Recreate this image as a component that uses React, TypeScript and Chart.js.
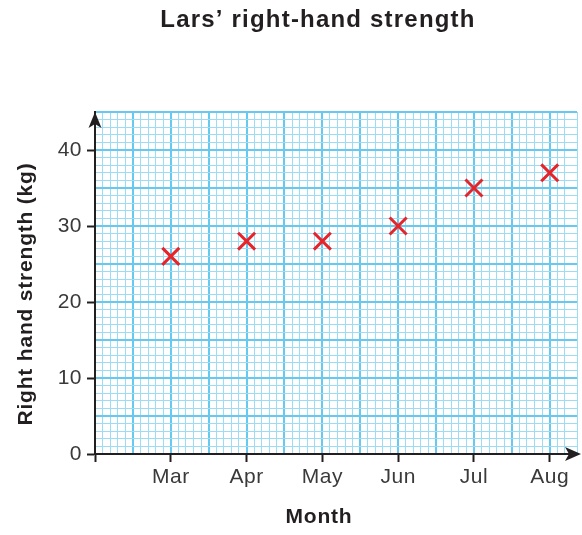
import React, { useEffect, useRef } from "react";
import { Chart, registerables } from "chart.js";

Chart.register(...registerables);

const TITLE = "Lars’ right-hand strength";
const X_TITLE = "Month";
const Y_TITLE = "Right hand strength (kg)";
const months = ["Mar", "Apr", "May", "Jun", "Jul", "Aug"];
const strength = [26, 28, 28, 30, 35, 37];
const yLabelStep = 10;

const X_MAX = 6.36;
const Y_MAX = 45;

const INK = "#231f20";
const TICK_TEXT = "#3a3a3a";
const GRID_MINOR = "#9cdcf5";
const GRID_MAJOR = "#66c9ef";
const MARK = "#e6242a";
const FONT = "'Liberation Sans', Arial, Helvetica, sans-serif";

const decorPlugin = {
  id: "decor",
  beforeDraw(chart: any) {
    (chart.ctx as any).letterSpacing = "0.5px";
  },
  afterDraw(chart: any) {
    const ctx = chart.ctx as CanvasRenderingContext2D;
    const { left, right, top, bottom } = chart.chartArea;
    ctx.save();
    // arrow heads
    ctx.fillStyle = INK;
    ctx.beginPath();
    ctx.moveTo(left, top);
    ctx.lineTo(left - 6.5, top + 16);
    ctx.lineTo(left, top + 12);
    ctx.lineTo(left + 6.5, top + 16);
    ctx.closePath();
    ctx.fill();
    const tipX = right + 4;
    ctx.beginPath();
    ctx.moveTo(tipX, bottom);
    ctx.lineTo(tipX - 16, bottom - 7);
    ctx.lineTo(tipX - 12, bottom);
    ctx.lineTo(tipX - 16, bottom + 7);
    ctx.closePath();
    ctx.fill();

    // texts
    (ctx as any).letterSpacing = "1.2px";
    ctx.fillStyle = INK;
    ctx.textAlign = "center";
    ctx.textBaseline = "middle";
    ctx.font = `bold 24px ${FONT}`;
    ctx.fillText(TITLE, 318, 20);
    (ctx as any).letterSpacing = "0.8px";
    ctx.font = `bold 21px ${FONT}`;
    ctx.fillText(X_TITLE, 319, 517);
    ctx.translate(26, 294);
    ctx.rotate(-Math.PI / 2);
    ctx.fillText(Y_TITLE, 0, 0);
    ctx.restore();
  },
};

export default function App() {
  const ref = useRef<HTMLCanvasElement | null>(null);

  useEffect(() => {
    document.body.style.margin = "0";
    if (!ref.current) return;
    const isMajor = (c: any) =>
      Math.round(c.tick.value * (c.scale.axis === "x" ? 10 : 1)) % 5 === 0;
    const gridColor = (c: any) => (isMajor(c) ? GRID_MAJOR : GRID_MINOR);
    const gridWidth = (c: any) => (isMajor(c) ? 2 : 1);

    const chart = new Chart(ref.current, {
      type: "scatter",
      data: {
        datasets: [
          {
            label: "Right hand strength",
            data: months.map((m, i) => ({ x: i + 1, y: strength[i] })),
            xAxisID: "x",
            yAxisID: "y",
            pointStyle: "crossRot",
            pointRadius: 12,
            pointHoverRadius: 12,
            borderWidth: 3,
            pointBorderWidth: 3,
            borderColor: MARK,
            backgroundColor: MARK,
          },
        ],
      },
      options: {
        responsive: false,
        maintainAspectRatio: false,
        animation: false,
        events: [],
        layout: { autoPadding: false, padding: { top: 112, right: 5, bottom: 0, left: 0 } },
        plugins: {
          legend: { display: false },
          title: { display: false },
          tooltip: { enabled: false },
        },
        scales: {
          x: {
            type: "linear",
            position: "bottom",
            min: 0,
            max: X_MAX,
            weight: 0,
            ticks: { display: false, stepSize: 0.1, autoSkip: false },
            grid: { drawTicks: false, color: gridColor, lineWidth: gridWidth },
            border: { display: false },
          },
          xl: {
            type: "linear",
            position: "bottom",
            min: 0,
            max: X_MAX,
            weight: 1,
            z: 1,
            ticks: {
              stepSize: 1,
              includeBounds: false,
              autoSkip: false,
              maxRotation: 0,
              padding: 3,
              color: TICK_TEXT,
              font: { family: FONT, size: 21 },
              callback: (v: any) => (v >= 1 && v <= months.length ? months[v - 1] : ""),
            },
            grid: { drawOnChartArea: false, drawTicks: true, tickLength: 8, tickColor: INK, tickWidth: 2 },
            border: { display: true, color: INK, width: 2 },
            afterFit: (s: any) => {
              s.height = 81;
            },
          },
          y: {
            type: "linear",
            position: "left",
            min: 0,
            max: Y_MAX,
            weight: 0,
            ticks: { display: false, stepSize: 1, autoSkip: false },
            grid: { drawTicks: false, color: gridColor, lineWidth: gridWidth },
            border: { display: false },
          },
          yl: {
            type: "linear",
            position: "left",
            min: 0,
            max: Y_MAX,
            weight: 1,
            z: 1,
            ticks: {
              stepSize: yLabelStep,
              includeBounds: false,
              autoSkip: false,
              padding: 5,
              color: TICK_TEXT,
              font: { family: FONT, size: 21 },
            },
            grid: { drawOnChartArea: false, drawTicks: true, tickLength: 8, tickColor: INK, tickWidth: 2 },
            border: { display: true, color: INK, width: 2 },
            afterFit: (s: any) => {
              s.width = 95;
            },
          },
        },
      } as any,
      plugins: [decorPlugin],
    });
    return () => chart.destroy();
  }, []);

  return (
    <div style={{ width: 582, height: 535 }}>
      <canvas ref={ref} width={582} height={535} style={{ display: "block" }} />
    </div>
  );
}
